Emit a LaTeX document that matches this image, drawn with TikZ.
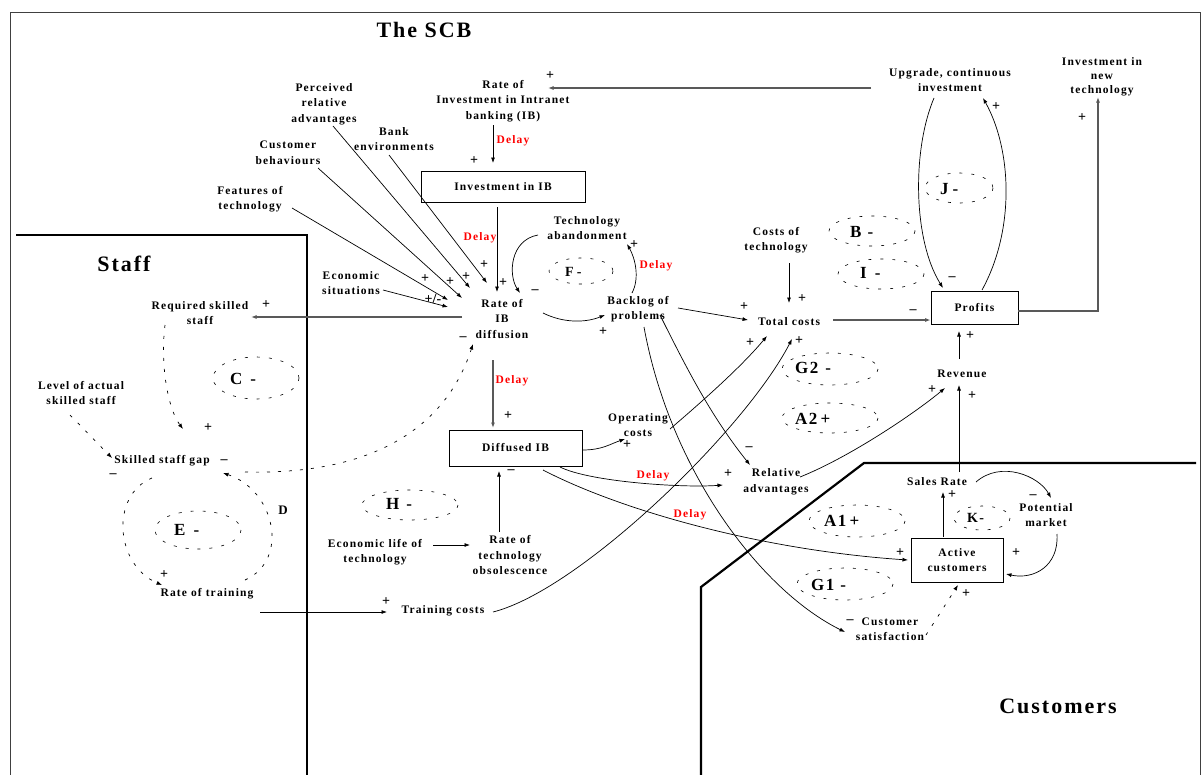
\documentclass[tikz,border=0pt]{standalone}
\usepackage{fontspec}
\usetikzlibrary{arrows.meta,calc}
\newfontfamily\lsf[LetterSpace=10]{Liberation Serif}
\newfontfamily\tsf[LetterSpace=9]{Liberation Serif}
\newfontfamily\psf{Liberation Serif}
\newcommand\fLab{\lsf\bfseries\fontsize{11.5}{15.5}\selectfont}
\newcommand\fTitle{\tsf\bfseries\fontsize{22}{26}\selectfont}
\newcommand\fLoop{\tsf\bfseries\fontsize{17}{20}\selectfont}
\newcommand\fSLoop{\tsf\bfseries\fontsize{14}{16}\selectfont}
\newcommand\fSign{\psf\bfseries\fontsize{14}{16}\selectfont}
\newcommand\fDelay{\lsf\bfseries\fontsize{11.5}{14}\selectfont}
\begin{document}
\begin{tikzpicture}[x=1pt,y=-1pt,
  lab/.style={font=\fLab, align=center, inner sep=1pt},
  box/.style={draw, line width=0.8pt, font=\fLab, align=center, inner sep=1pt},
  conn/.style={line width=0.7pt, -{Latex[length=5.5pt,width=4pt]}},
  gconn/.style={conn, draw=black!65, line width=1.1pt},
  dconn/.style={conn, dash pattern=on 3pt off 8pt},
  sgn/.style={font=\fSign, inner sep=0pt},
  dly/.style={font=\fDelay, text=red, inner sep=0pt},
  loopell/.style={line width=0.6pt, dash pattern=on 3pt off 9pt},
  looplab/.style={font=\fLoop, inner sep=0pt, anchor=west},
  region/.style={line width=2.2pt},
  frame/.style={line width=1pt, draw=black!75},
  ttl/.style={font=\fTitle, inner sep=0pt}]
\useasboundingbox (0,0) rectangle (1202,774);

% frame and regions
\draw[frame] (10.5,776) -- (10.5,12) -- (1200.5,12) -- (1200.5,776);
\draw[region] (16,235) -- (307,235) -- (307,776);
\draw[region] (701,776) -- (701,587) -- (864,463) -- (1196,463);

\node[ttl] (tSCB) at (424,30) {The SCB};
\node[ttl] (tStaff) at (124,264) {Staff};
\node[ttl] (tCust) at (1058,706) {Customers};

% variables
\node[lab] (rinv) at (503,101) {Rate of\\Investment in Intranet\\banking (IB)};
\node[box, minimum width=164pt, minimum height=31pt] (invib) at (503,186.5) {Investment in IB};
\node[lab] (rdiff) at (502,319) {Rate of\\IB\\diffusion};
\node[box, minimum width=133pt, minimum height=36pt] (diffib) at (515.5,448) {Diffused IB};
\node[lab] (perc) at (324,104) {Perceived\\relative\\advantages};
\node[lab] (bank) at (394,139) {Bank\\environments};
\node[lab] (custb) at (288,153) {Customer\\behaviours};
\node[lab] (feat) at (250,199) {Features of\\technology};
\node[lab] (econ) at (351,283) {Economic\\situations};
\node[lab] (reqs) at (200,313) {Required skilled\\staff};
\node[lab] (level) at (81,393) {Level of actual\\skilled staff};
\node[lab] (gap) at (162,461) {Skilled staff gap};
\node[lab] (train) at (207,594) {Rate of training};
\node[lab] (tcost) at (443,611) {Training costs};
\node[lab] (elife) at (375,552) {Economic life of\\technology};
\node[lab] (obs) at (510,555) {Rate of\\technology\\obsolescence};
\node[lab] (tab) at (587,228) {Technology\\abandonment};
\node[lab] (backlog) at (638,309) {Backlog of\\problems};
\node[lab] (opc) at (638,425) {Operating\\costs};
\node[lab] (cot) at (776,240) {Costs of\\technology};
\node[lab] (total) at (789,322) {Total costs};
\node[lab] (relad) at (776,482) {Relative\\advantages};
\node[box, minimum width=87pt, minimum height=33pt] (profits) at (974.5,307.5) {Profits};
\node[lab] (revenue) at (962,374) {Revenue};
\node[lab] (sales) at (937,482) {Sales Rate};
\node[lab] (potm) at (1046,515) {Potential\\market};
\node[box, minimum width=92pt, minimum height=44pt] (active) at (957,560) {Active\\customers};
\node[lab] (csat) at (890,629) {Customer\\satisfaction};
\node[lab] (upg) at (950,80) {Upgrade, continuous\\investment};
\node[lab, font=\lsf\bfseries\fontsize{11.5}{14}\selectfont] (newtech) at (1102,77) {Investment in\\new\\technology};

% loops
\draw[loopell] (256,378) ellipse [x radius=43, y radius=21];
\node[looplab] (lC) at (230,379) {C\hspace{8pt}-};
\draw[loopell] (198,530) ellipse [x radius=43, y radius=19];
\node[looplab] (lE) at (174,530) {E\hspace{8pt}-};
\node[font=\lsf\bfseries\fontsize{13}{15}\selectfont, inner sep=0pt] (lD) at (283,510) {D};
\draw[loopell] (581,271) ellipse [x radius=32, y radius=13];
\node[looplab, font=\fSLoop] (lF) at (565,272) {F\hspace{3pt}-};
\draw[loopell] (410,505) ellipse [x radius=48, y radius=15];
\node[looplab] (lH) at (386,504) {H\hspace{7pt}-};
\draw[loopell] (959,188) ellipse [x radius=34, y radius=15];
\node[looplab] (lJ) at (940,189) {J\hspace{4pt}-};
\draw[loopell] (872,231) ellipse [x radius=43, y radius=15];
\node[looplab] (lB) at (850,232) {B\hspace{6pt}-};
\draw[loopell] (881,274) ellipse [x radius=43, y radius=15];
\node[looplab] (lI) at (860,273) {I\hspace{8pt}-};
\draw[loopell] (830,369) ellipse [x radius=48, y radius=16];
\node[looplab] (lG2) at (795,368) {G2\hspace{7pt}-};
\draw[loopell] (830,418) ellipse [x radius=48, y radius=15];
\node[looplab] (lA2) at (795,419) {A2\hspace{3pt}+};
\draw[loopell] (857,521) ellipse [x radius=48, y radius=16];
\node[looplab] (lA1) at (824,521) {A1\hspace{3pt}+};
\draw[loopell] (845,584) ellipse [x radius=48, y radius=16];
\node[looplab] (lG1) at (811,585) {G1\hspace{6pt}-};
\draw[loopell] (982,518) ellipse [x radius=28, y radius=12];
\node[looplab, font=\fSLoop] (lK) at (967,518) {K-};

% connectors
\draw[gconn] ($(upg)+(-79,8)$) -- ($(rinv)+(45,-13)$);
\draw[conn] ($(rinv)+(-10,24)$) -- ($(invib)+(-10,-23.5)$);
\draw[conn] ($(invib)+(-6,20.5)$) -- ($(rdiff)+(-5,-27)$);
\draw[conn] ($(feat)+(42,9)$) -- ($(rdiff)+(-54,-19)$);
\draw[conn] ($(custb)+(30,15)$) -- ($(rdiff)+(-40,-21)$);
\draw[conn] ($(perc)+(9,22)$) -- ($(rdiff)+(-32,-31)$);
\draw[conn] ($(bank)+(-5,16)$) -- ($(rdiff)+(-15,-36)$);
\draw[conn] ($(econ)+(32,7)$) -- ($(rdiff)+(-54,-12)$);
\draw[gconn] ($(rdiff)+(-40,-2)$) -- ($(reqs)+(51,4)$);
\draw[gconn] ($(rdiff)+(-9,41)$) -- ($(diffib)+(-22.5,-20)$);
\draw[conn] ($(rdiff)+(41,-6)$) .. controls +(20,10) and +(-20,8) .. ($(backlog)+(-33,6)$);
\draw[conn] ($(backlog)+(-6,-16)$) .. controls +(8,-15) and +(8,14) .. ($(tab)+(40,16)$);
\draw[conn] ($(tab)+(-49,7)$) .. controls +(-28,5) and +(-12,-18) .. ($(rdiff)+(18,-26)$);
\draw[conn] ($(backlog)+(40,-1)$) -- ($(total)+(-41,-2)$);
\draw[conn] ($(backlog)+(22,6)$) .. controls +(25,50) and +(-40,-50) .. ($(relad)+(-26,-17)$);
\draw[conn] ($(backlog)+(6,18)$) .. controls +(26,143) and +(-85,-42) .. ($(csat)+(-45,3)$);
\draw[conn] ($(opc)+(32,4)$) .. controls +(35,-30) and +(-25,30) .. ($(total)+(-22,14)$);
\draw[conn] ($(tcost)+(50,1)$) .. controls +(87,-22) and +(-47,91) .. ($(total)+(3,17)$);
\draw[conn] ($(cot)+(13,23)$) -- ($(total)+(0,-19)$);
\draw[gconn] ($(total)+(44,-2)$) -- ($(profits.west)+(0,12.5)$);
\draw[gconn] ($(profits.east)+(0,3.5)$) -| ($(newtech)+(-4,20)$);
\draw[conn] ($(profits)+(7.5,-17.5)$) .. controls +(33,-60) and +(29,52) .. ($(upg)+(33,18)$);
\draw[conn] ($(upg)+(-16,18)$) .. controls +(-22,52) and +(-30,-48) .. ($(profits)+(-31.5,-19.5)$);
\draw[conn] ($(relad)+(24,-5)$) .. controls +(50,-20) and +(-30,25) .. ($(revenue)+(-17,14)$);
\draw[conn] ($(revenue)+(-3,-15)$) -- ($(profits)+(-15.5,23.5)$);
\draw[conn] ($(sales)+(22,-10)$) -- ($(revenue)+(-3,11)$);
\draw[conn] ($(sales)+(39,0)$) .. controls +(25,-22) and +(-12,-22) .. ($(potm)+(5,-17)$);
\draw[conn] ($(potm)+(11,19)$) .. controls +(2,32) and +(28,6) .. ($(active)+(49,14)$);
\draw[conn] ($(active)+(-14,-23)$) -- ($(sales)+(6,10)$);
\draw[dconn] ($(csat)+(36,6)$) -- ($(active)+(1,25)$);
\draw[conn] ($(diffib)+(27.5,22)$) .. controls +(77,40) and +(-148,-10) .. ($(active)+(-49,0)$);
\draw[conn] ($(diffib)+(44.5,19)$) .. controls +(30,15) and +(-40,3) .. ($(relad)+(-53,3)$);
\draw[conn] ($(diffib.east)+(0,2)$) .. controls +(20,0) and +(-15,5) .. ($(opc)+(-13,14)$);
\draw[conn] ($(obs)+(-11,-23)$) -- ($(diffib)+(-16.5,23)$);
\draw[conn] ($(elife)+(58,-7)$) -- ($(obs)+(-40,-10)$);
\draw[conn] ($(train)+(53,18)$) -- ($(tcost)+(-56,1)$);
\draw[dconn] ($(reqs)+(-35,12)$) .. controls +(-5,40) and +(-15,-20) .. ($(gap)+(21,-32)$);
\draw[dconn] ($(level)+(-11,22)$) -- ($(gap)+(-50,-3)$);
\draw[dconn] ($(gap)+(83,11)$) .. controls +(125,3) and +(-28,86) .. ($(rdiff)+(-29,25)$);
\draw[dconn] ($(train)+(38,-14)$) .. controls +(45,-20) and +(52,17) .. ($(gap)+(61,12)$);
\draw[dconn] ($(gap)+(-10,17)$) .. controls +(-42,17) and +(-47,-20) .. ($(train)+(-45,-9)$);

% delays
\node[dly] (d1) at (513,141) {Delay};
\node[dly] (d2) at (480,238) {Delay};
\node[dly] (d3) at (512,381) {Delay};
\node[dly] (d4) at (656,266) {Delay};
\node[dly] (d5) at (653,476) {Delay};
\node[dly] (d6) at (690,515) {Delay};

% polarity signs
\node[sgn] (s1) at (550,76) {+};
\node[sgn] (s2) at (474,161) {+};
\node[sgn] (s3) at (425,279) {+};
\node[sgn] (s4) at (450,282) {+};
\node[sgn] (s5) at (466,277) {+};
\node[sgn] (s6) at (484,265) {+};
\node[sgn] (s7) at (503,283) {+};
\node[sgn] (s8) at (433,299) {+/-};
\node[sgn] (s9) at (266,305) {+};
\node[sgn] (s10) at (463,339) {–};
\node[sgn] (s11) at (508,416) {+};
\node[sgn] (s12) at (603,332) {+};
\node[sgn] (s13) at (535,292) {–};
\node[sgn] (s14) at (634,245) {+};
\node[sgn] (s15) at (744,307) {+};
\node[sgn] (s16) at (802,299) {+};
\node[sgn] (s17) at (750,343) {+};
\node[sgn] (s18) at (799,341) {+};
\node[sgn] (s19) at (913,312) {–};
\node[sgn] (s20) at (952,279) {–};
\node[sgn] (s21) at (996,107) {+};
\node[sgn] (s22) at (1082,118) {+};
\node[sgn] (s23) at (970,336) {+};
\node[sgn] (s24) at (932,390) {+};
\node[sgn] (s25) at (972,396) {+};
\node[sgn] (s26) at (952,495) {+};
\node[sgn] (s27) at (1033,497) {–};
\node[sgn] (s28) at (1016,553) {+};
\node[sgn] (s29) at (900,553) {+};
\node[sgn] (s30) at (966,594) {+};
\node[sgn] (s31) at (850,622) {–};
\node[sgn] (s32) at (749,449) {–};
\node[sgn] (s33) at (728,474) {+};
\node[sgn] (s34) at (627,445) {+};
\node[sgn] (s35) at (511,472) {–};
\node[sgn] (s36) at (386,602) {+};
\node[sgn] (s37) at (208,428) {+};
\node[sgn] (s38) at (164,575) {+};
\node[sgn] (s39) at (224,462) {–};
\node[sgn] (s40) at (113,476) {–};
\end{tikzpicture}
\end{document}
